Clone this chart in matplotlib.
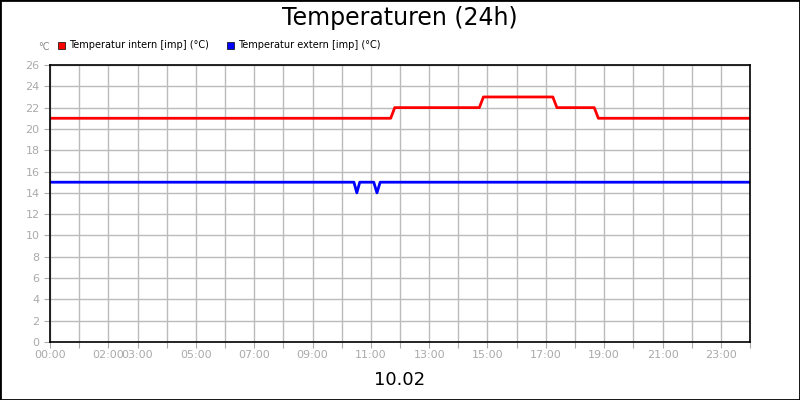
import matplotlib.pyplot as plt
from matplotlib.patches import Rectangle

# hours since 00:00 and readings
t_intern = [0, 11.68, 11.82, 14.72, 14.86, 17.24, 17.38, 18.66, 18.8, 24]
v_intern = [21, 21, 22, 22, 23, 23, 22, 22, 21, 21]
t_extern = [0, 10.42, 10.52, 10.62, 11.1, 11.21, 11.32, 24]
v_extern = [15, 15, 14, 15, 15, 14, 15, 15]
tick_hours = [0, 2, 3, 5, 7, 9, 11, 13, 15, 17, 19, 21, 23]
tick_labels = ['%02d:00' % h for h in tick_hours]

fig = plt.figure(figsize=(8, 4), dpi=100)
fig.patches.append(Rectangle((0, 0), 1, 1, transform=fig.transFigure, fill=False,
                             edgecolor='black', linewidth=2))
ax = fig.add_axes([50 / 800, 58 / 400, 700 / 800, 277 / 400])
ax.plot(t_intern, v_intern, color='#ff0000', linewidth=2)
ax.plot(t_extern, v_extern, color='#0000ff', linewidth=2)
ax.set_xlim(0, 24)
ax.set_ylim(0, 26)
ax.set_xticks(range(25), minor=False)
ax.set_xticklabels([tick_labels[tick_hours.index(h)] if h in tick_hours else '' for h in range(25)])
ax.set_yticks(range(0, 27, 2))
ax.grid(True, color='#bbbbbb', linewidth=1)
ax.set_axisbelow(True)
ax.tick_params(colors='#aaaaaa', labelsize=8, length=4)
ax.tick_params(axis='x', pad=2)
for s in ax.spines.values():
    s.set_color('black')
    s.set_linewidth(1.2)

fig.text(0.5, 0.955, 'Temperaturen (24h)', ha='center', va='center', fontsize=17)
fig.text(0.5, 0.05, '10.02', ha='center', va='center', fontsize=13)
fig.text(38 / 800, 1 - 47 / 400, '°C', fontsize=7, color='#888888', va='center')
fig.patches.append(Rectangle((58 / 800, 1 - 49 / 400), 7 / 800, 7 / 400, transform=fig.transFigure,
                             facecolor='#ff0000', edgecolor='black', linewidth=0.5))
fig.text(69 / 800, 1 - 45 / 400, 'Temperatur intern [imp] (°C)', fontsize=7, va='center')
fig.patches.append(Rectangle((227 / 800, 1 - 49 / 400), 7 / 800, 7 / 400, transform=fig.transFigure,
                             facecolor='#0000ff', edgecolor='black', linewidth=0.5))
fig.text(238 / 800, 1 - 45 / 400, 'Temperatur extern [imp] (°C)', fontsize=7, va='center')

fig.savefig('out.png', dpi=100)
